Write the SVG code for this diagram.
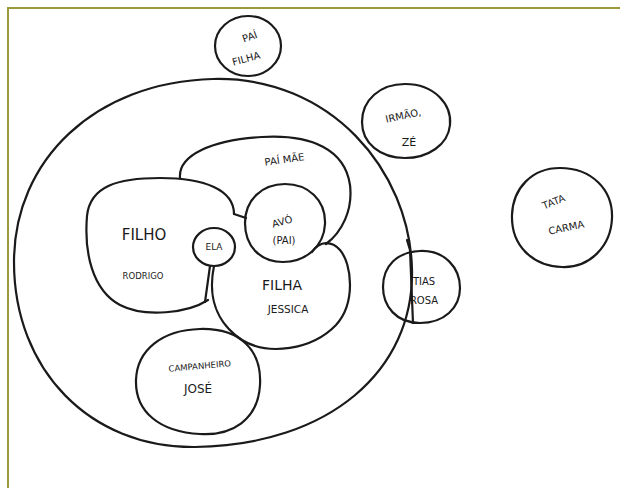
<svg xmlns="http://www.w3.org/2000/svg" width="620" height="488" viewBox="0 0 620 488">
<style>
.s{fill:none;stroke:#1a1a1a;stroke-width:2.2;stroke-linecap:round;stroke-linejoin:round}
.t{font-family:"DejaVu Sans",sans-serif;fill:#1a1a1a;text-anchor:middle}
</style>
<rect width="620" height="488" fill="#fff"/>
<path d="M8,488 V8 H620" fill="none" stroke="#9a9a3a" stroke-width="2"/>
<g id="familia">
<path class="s" d="M213,79 C330,76 410,170 412,270 C414,370 330,445 195,447 C90,448 14,370 14,262 C14,160 95,82 213,79 Z"/>
</g>
<g id="pai-filha">
<ellipse class="s" cx="248" cy="46" rx="33" ry="30"/>
<text class="t" font-size="10" transform="translate(251,40) rotate(-20)">PAÍ</text>
<text class="t" font-size="10" transform="translate(247,62) rotate(-15)">FILHA</text>
</g>
<g id="irmao-ze">
<path class="s" d="M405,84 C435,84 452,105 450,125 C448,145 428,158 405,158 C380,158 362,143 362,122 C362,100 380,84 405,84 Z"/>
<text class="t" font-size="10" transform="translate(404,119) rotate(-12)">IRMÃO,</text>
<text class="t" font-size="11" x="409" y="146">ZÉ</text>
</g>
<g id="tata-carma">
<path class="s" d="M560,168 C592,168 613,190 612,218 C611,246 590,268 562,267 C532,266 511,245 512,215 C513,188 532,168 560,168 Z"/>
<text class="t" font-size="10" transform="translate(555,205) rotate(-22)">TATA</text>
<text class="t" font-size="10" transform="translate(567,231) rotate(-12)">CARMA</text>
</g>
<g id="pai-mae">
<path class="s" d="M180,178 C178,155 212,140 262,137 C312,134 345,150 350,185 C353,210 342,232 326,244"/>
<text class="t" font-size="10" transform="translate(285,163) rotate(-8)">PAÍ MÃE</text>
</g>
<g id="filho-rodrigo">
<path class="s" d="M234,214 C234,190 205,178 160,178 C118,178 90,186 87,216 C84,252 92,290 120,305 C145,318 188,313 208,300"/>
<text class="t" font-size="15" x="144" y="240">FILHO</text>
<text class="t" font-size="8.5" x="143" y="279">RODRIGO</text>
</g>
<g id="ela">
<ellipse class="s" cx="214" cy="247" rx="21" ry="19"/>
<text class="t" font-size="9" x="214" y="250">ELA</text>
</g>
<g id="avo-pai">
<path class="s" d="M285,184 C308,184 326,200 325,224 C324,246 306,262 283,262 C260,262 245,246 245,223 C245,200 262,184 285,184 Z"/>
<text class="t" font-size="10" transform="translate(283,225) rotate(-15)">AVÓ</text>
<text class="t" font-size="10" x="284" y="244">(PAI)</text>
</g>
<g id="filha-jessica">
<path class="s" d="M214,266 C208,295 215,322 242,340 C268,356 312,350 336,325 C356,303 352,264 340,250 C332,241 320,240 312,252"/>
<text class="t" font-size="14" x="282" y="290">FILHA</text>
<text class="t" font-size="10.5" x="288" y="313">JESSICA</text>
</g>
<g id="companheiro-jose">
<path class="s" d="M200,329 C240,328 262,350 260,385 C258,420 232,436 200,434 C160,432 135,412 136,380 C137,350 162,330 200,329 Z"/>
<text class="t" font-size="8.5" transform="translate(200,369) rotate(-5)">CAMPANHEIRO</text>
<text class="t" font-size="12" x="198" y="393">JOSÉ</text>
</g>
<g id="tia-rosa">
<path class="s" d="M420,251 C445,250 460,268 460,288 C460,308 444,323 420,323 C396,323 383,306 383,287 C383,266 397,252 420,251 Z"/>
<text class="t" font-size="10" x="424" y="285">TIAS</text>
<text class="t" font-size="10" x="424" y="304">ROSA</text>
</g>
<g id="connectors">
<path class="s" d="M234,214 L246,218"/>
<path class="s" d="M210,266 L205,302"/>
<path class="s" d="M410,250 L413,323"/>
<path class="s" d="M407,240 L410,250"/>
</g>
</svg>
